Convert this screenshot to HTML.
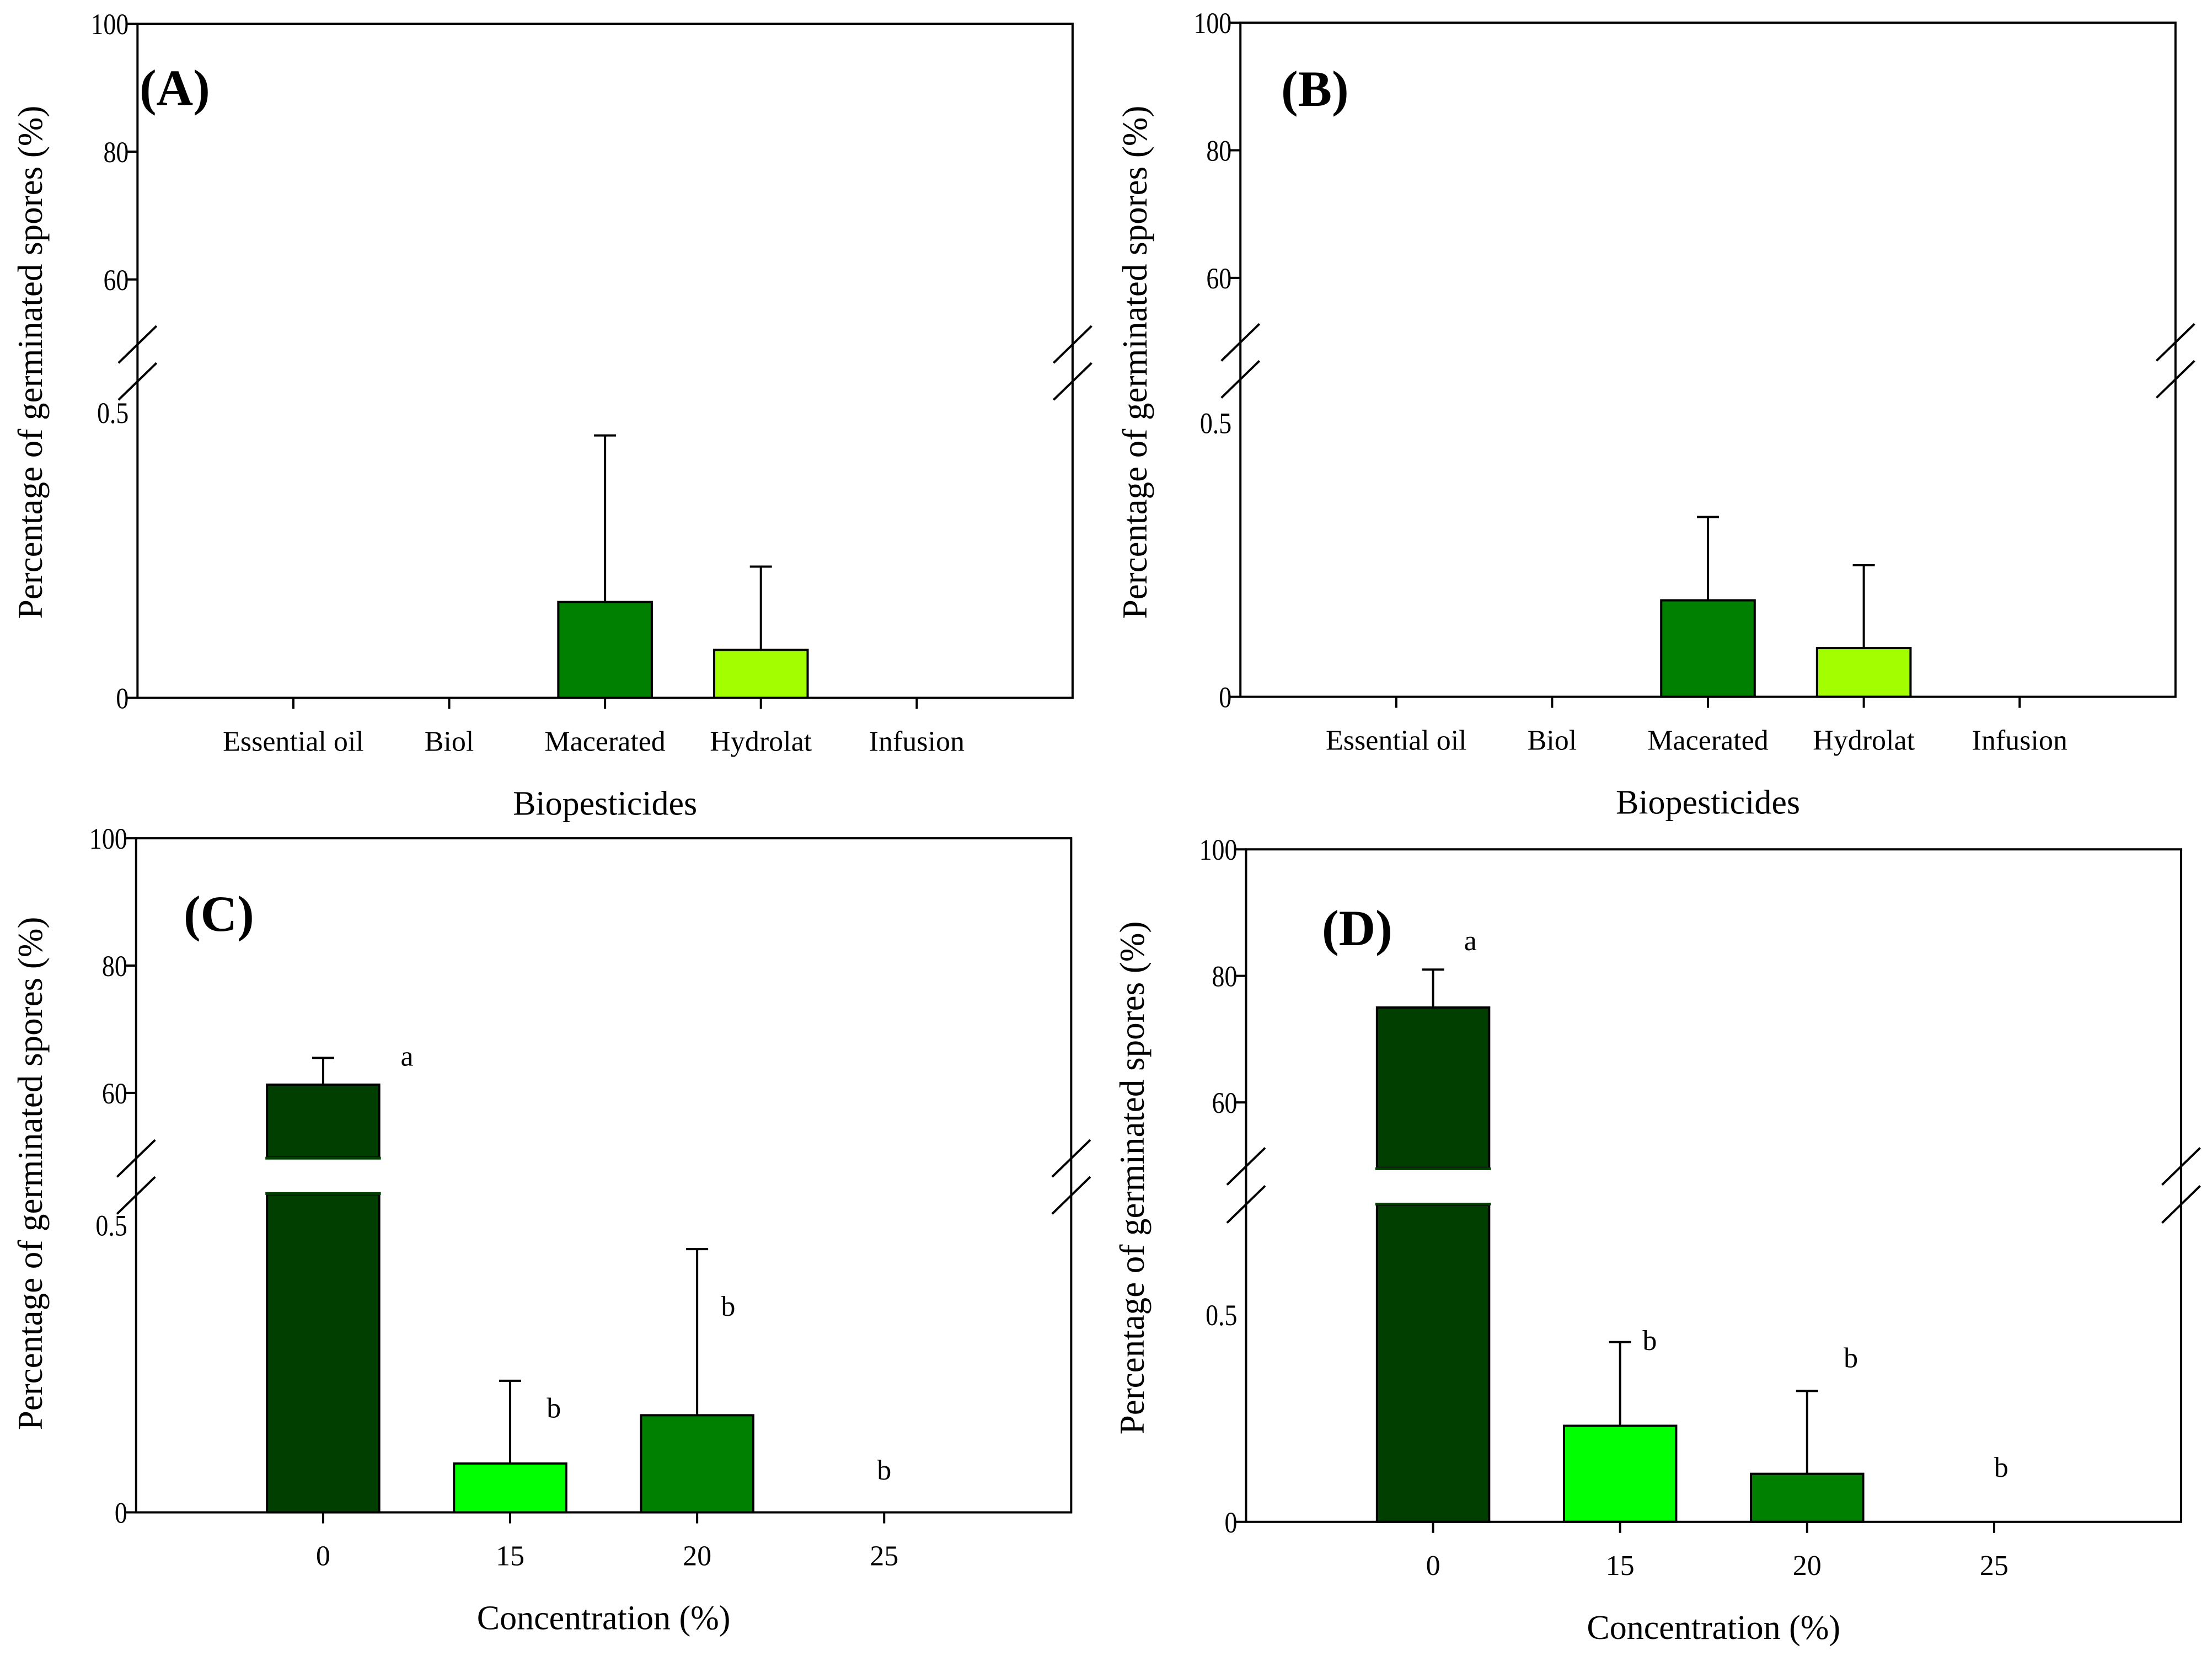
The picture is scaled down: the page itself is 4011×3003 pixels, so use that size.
<!DOCTYPE html>
<html><head><meta charset="utf-8"><style>
html,body{margin:0;padding:0;background:#fff;overflow:hidden;}
svg{display:block;}
text{font-family:"Liberation Serif",serif;fill:#000;}
</style></head><body>
<svg id="fig" width="4011" height="3003" viewBox="0 0 4011 3003" xmlns="http://www.w3.org/2000/svg"></svg>
<script>
// ---- data ----
const catsAB = ["Essential oil","Biol","Macerated","Hydrolat","Infusion"];
const valsA = [0,0,0.168,0.084,0];
const errsA = [0,0,0.46,0.23,0];
const valsB = [0,0,0.176,0.089,0];
const errsB = [0,0,0.328,0.24,0];
const catsCD = ["0","15","20","25"];
const valsC = [61.3,0.085,0.169,0];
const errsC = [65.5,0.229,0.458,0];
const lettersC = ["a","b","b","b"];
const valsD = [75,0.232,0.116,0];
const errsD = [81,0.434,0.316,0];
const lettersD = ["a","b","b","b"];
const upperTicks = [100,80,60];
const lowerTicks = [0.5,0];
const colorsAB = ["#008000","#008000","#008000","#a3ff00","#008000"];
const colorsCD = ["#003f00","#00ff00","#008000","#008000"];

const NS="http://www.w3.org/2000/svg";
const svg=document.getElementById('fig');
function mk(tag,attrs,parent){const e=document.createElementNS(NS,tag);for(const k in attrs)e.setAttribute(k,attrs[k]);parent.appendChild(e);return e;}
const SX=1.2787, SY=0.958;

function panel(cfg){
  const g=mk('g',{transform:`translate(${cfg.ox},${cfg.oy})`},svg);
  
  
  const X=z=>z*SX, Y=z=>z*SY;
  const L=X(cfg.left),R=X(cfg.right),T=Y(cfg.top),B=Y(cfg.bottom);
  const yU=v=>Y(cfg.y100+(100-v)*(cfg.y60-cfg.y100)/40);
  const yL=v=>Y(cfg.y0+(cfg.y05-cfg.y0)*v/0.5);
  const y=v=>v>1?yU(v):yL(v);
  const bU=Y(cfg.breakU), bL=Y(cfg.breakL), y0=Y(cfg.y0);
  const n=cfg.cats.length, band=(R-L)/(n+1);
  const xc=i=>L+band*(i+1);
  const bw=band*0.6;
  const sw=4;
  cfg.vals.forEach((v,i)=>{
    if(v<=0)return;
    if(v>1){
      const r1=mk('rect',{x:xc(i)-bw/2,y:yU(v),width:bw,height:bU-yU(v),fill:cfg.colors[i],stroke:'#000','stroke-width':sw},g);
      
      
      const r2=mk('rect',{x:xc(i)-bw/2,y:bL,width:bw,height:y0-bL,fill:cfg.colors[i],stroke:'#000','stroke-width':sw},g);
      
      
      mk('rect',{x:xc(i)-bw/2-3,y:bU-1,width:bw+6,height:5,fill:cfg.colors[i]},g);
      mk('rect',{x:xc(i)-bw/2-3,y:bL-4,width:bw+6,height:5,fill:cfg.colors[i]},g);
    } else {
      const r=mk('rect',{x:xc(i)-bw/2,y:y(v),width:bw,height:y0-y(v),fill:cfg.colors[i],stroke:'#000','stroke-width':sw},g);
      
      
    }
    const e=cfg.errs[i];
    if(e>v){
      const eb=mk('path',{d:`M${xc(i)},${y(v)}V${y(e)}M${xc(i)-20},${y(e)}H${xc(i)+20}`,stroke:'#000','stroke-width':sw,fill:'none'},g);
      
      
    }
  });
  const fr=mk('rect',{x:L,y:T,width:R-L,height:B-T,fill:'none',stroke:'#000','stroke-width':sw},g);
  
  
  [L,R].forEach(xx=>{
    const m1=Y(cfg.bm1), m2=Y(cfg.bm2), dx=X(27), dy=Y(35);
    const br=mk('path',{d:`M${xx-dx},${m1+dy}L${xx+dx},${m1-dy}M${xx-dx},${m2+dy}L${xx+dx},${m2-dy}`,stroke:'#000','stroke-width':sw,fill:'none'},g);
    
    
  });
  const tl=L-16;
  upperTicks.forEach(t=>{
    mk('line',{x1:L-19,x2:L,y1:yU(t),y2:yU(t),stroke:'#000','stroke-width':sw},g);
    const tx=mk('text',{x:tl,y:yU(t)+19,'text-anchor':'end','font-size':54,transform:`translate(${tl},0) scale(0.85,1) translate(${-tl},0)`},g);
    tx.textContent=t;
    
    
  });
  lowerTicks.forEach(t=>{
    if(t===0) mk('line',{x1:L-19,x2:L,y1:yL(t),y2:yL(t),stroke:'#000','stroke-width':sw},g);
    const tx=mk('text',{x:tl,y:yL(t)+19,'text-anchor':'end','font-size':54,transform:`translate(${tl},0) scale(0.85,1) translate(${-tl},0)`},g);
    tx.textContent=t;
    
    
  });
  cfg.cats.forEach((c,i)=>{
    mk('line',{x1:xc(i),x2:xc(i),y1:B,y2:B+20,stroke:'#000','stroke-width':sw},g);
    const tx=mk('text',{x:xc(i),y:B+96,'text-anchor':'middle','font-size':52},g);
    tx.textContent=c;
    
    
  });
  if(cfg.letters){
    cfg.letters.forEach((s,i)=>{
      const tx=mk('text',{x:xc(i)+X(cfg.ldx[i]),y:Y(cfg.ly[i])+14,'text-anchor':'middle','font-size':52},g);
      tx.textContent=s;
      
      
    });
  }
  const xt=mk('text',{x:(L+R)/2,y:B+212,'text-anchor':'middle','font-size':62},g);
  xt.textContent=cfg.xtitle;
  
  
  const yt=mk('text',{x:0,y:0,'text-anchor':'middle','font-size':63,transform:`translate(${cfg.ytx},${cfg.yty}) rotate(-90)`},g);
  yt.textContent='Percentage of germinated spores (%)';
  
  
  const pl=mk('text',{x:cfg.plx,y:cfg.ply,'font-size':92,'font-weight':'bold'},g);
  pl.textContent=cfg.label;
  
  
}

panel({name:'panel-a',ox:0,oy:0,left:195,right:1521,top:45,bottom:1321,y100:45,y60:529,y0:1321,y05:781,
  breakU:650,breakL:720,bm1:652,bm2:722,cats:catsAB,vals:valsA,errs:errsA,colors:colorsAB,
  xtitle:'Biopesticides',ytx:76,yty:657,plx:253,ply:190,label:'(A)'});
panel({name:'panel-b',ox:2005,oy:0,left:191,right:1517,top:43,bottom:1319,y100:43,y60:526,y0:1319,y05:800,
  breakU:648,breakL:718,bm1:648,bm2:718,cats:catsAB,vals:valsB,errs:errsB,colors:colorsAB,
  xtitle:'Biopesticides',ytx:74,yty:657,plx:318,ply:192,label:'(B)'});
panel({name:'panel-c',ox:0,oy:1500,left:193,right:1519,top:21,bottom:1297,y100:21,y60:503,y0:1297,y05:753,
  breakU:625,breakL:695,bm1:627,bm2:697,cats:catsCD,vals:valsC,errs:errsC,colors:colorsCD,
  letters:lettersC,ldx:[119,62,44,0],ly:[437,1103,910,1220],
  xtitle:'Concentration (%)',ytx:76,yty:628,plx:333,ply:188,label:'(C)'});
panel({name:'panel-d',ox:2005,oy:1500,left:199,right:1525,top:42,bottom:1315,y100:42,y60:521,y0:1315,y05:923,
  breakU:645,breakL:715,bm1:642,bm2:714,cats:catsCD,vals:valsD,errs:errsD,colors:colorsCD,
  letters:lettersD,ldx:[53,42,62,10],ly:[218,975,1008,1215],
  xtitle:'Concentration (%)',ytx:69,yty:636,plx:392,ply:214,label:'(D)'});
</script>
</body></html>
